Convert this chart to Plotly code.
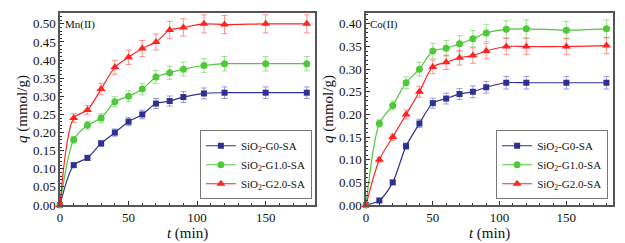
import plotly.graph_objects as go

t = [0, 10, 20, 30, 40, 50, 60, 70, 80, 90, 105, 120, 150, 180]

mn_g0 = [0, 0.11, 0.13, 0.17, 0.20, 0.23, 0.25, 0.28, 0.287, 0.298, 0.308, 0.31, 0.31, 0.31]
mn_g1 = [0, 0.18, 0.22, 0.24, 0.285, 0.30, 0.32, 0.353, 0.365, 0.375, 0.385, 0.39, 0.39, 0.39]
mn_g2 = [0, 0.24, 0.262, 0.32, 0.38, 0.408, 0.432, 0.45, 0.483, 0.49, 0.50, 0.498, 0.50, 0.50]
mn_g0_err = [0, 0.006, 0.007, 0.008, 0.01, 0.011, 0.012, 0.014, 0.014, 0.015, 0.015, 0.016, 0.016, 0.016]
mn_g1_err = [0, 0.009, 0.011, 0.012, 0.014, 0.015, 0.016, 0.018, 0.018, 0.019, 0.019, 0.02, 0.02, 0.02]
mn_g2_err = [0, 0.012, 0.013, 0.016, 0.019, 0.02, 0.022, 0.022, 0.024, 0.024, 0.025, 0.025, 0.025, 0.025]

co_g0 = [0, 0.01, 0.05, 0.13, 0.18, 0.225, 0.235, 0.245, 0.25, 0.26, 0.27, 0.27, 0.27, 0.27]
co_g1 = [0, 0.18, 0.22, 0.27, 0.30, 0.34, 0.346, 0.356, 0.367, 0.38, 0.388, 0.389, 0.386, 0.389]
co_g2 = [0, 0.10, 0.15, 0.20, 0.25, 0.305, 0.315, 0.325, 0.33, 0.34, 0.35, 0.35, 0.35, 0.352]
co_g0_err = [0, 0.004, 0.004, 0.007, 0.009, 0.011, 0.012, 0.012, 0.013, 0.013, 0.014, 0.014, 0.014, 0.014]
co_g1_err = [0, 0.008, 0.01, 0.013, 0.015, 0.017, 0.017, 0.018, 0.018, 0.019, 0.019, 0.02, 0.019, 0.02]
co_g2_err = [0, 0.005, 0.007, 0.01, 0.012, 0.015, 0.016, 0.016, 0.017, 0.017, 0.018, 0.018, 0.018, 0.018]

names = ["SiO<sub>2</sub>-G0-SA", "SiO<sub>2</sub>-G1.0-SA", "SiO<sub>2</sub>-G2.0-SA"]
colors = ["#2E3192", "#4FC83A", "#FF2424"]
err_colors = ["rgba(80,80,200,0.55)", "rgba(90,200,70,0.55)", "rgba(255,60,60,0.55)"]
symbols = ["square", "circle", "triangle-up"]
sizes = [6, 7, 8]

FONT = "Liberation Serif, Times New Roman, serif"
fig = go.Figure()

panels = [
    ([mn_g0, mn_g1, mn_g2], [mn_g0_err, mn_g1_err, mn_g2_err], "x", "y", "legend"),
    ([co_g0, co_g1, co_g2], [co_g0_err, co_g1_err, co_g2_err], "x2", "y2", "legend2"),
]
for series, errs, xa, ya, lg in panels:
    for i in range(3):
        fig.add_trace(go.Scatter(
            x=t, y=series[i], name=names[i], mode="lines+markers",
            xaxis=xa, yaxis=ya, legend=lg,
            line=dict(color=colors[i], width=1.2, shape="spline", smoothing=0.8),
            marker=dict(symbol=symbols[i], size=sizes[i], color=colors[i]),
            error_y=dict(type="data", array=errs[i], visible=True,
                         color=err_colors[i], thickness=1, width=3),
            cliponaxis=False,
        ))

axis_common = dict(
    showline=True, linecolor="#555555", linewidth=1.5, mirror=True,
    ticks="inside", ticklen=4, tickcolor="#333333", showgrid=False, zeroline=False,
    automargin=False,
    tickfont=dict(family=FONT, size=13, color="#111111"),
    minor=dict(ticks="inside", ticklen=2, tickcolor="#333333"),
)

fig.update_layout(
    width=625, height=243,
    margin=dict(l=0, r=0, t=13, b=38),
    paper_bgcolor="white", plot_bgcolor="white",
    font=dict(family=FONT, color="#111111"),
    xaxis=dict(domain=[0.096, 0.504], range=[0, 186], dtick=50,
               title=dict(text="<i>t</i> (min)", font=dict(size=15), standoff=2),
               anchor="y", **axis_common),
    yaxis=dict(domain=[0, 1], range=[0, 0.53], dtick=0.05, tickformat=".2f",
               title=dict(text="<i>q</i> (mmol/g)", font=dict(size=15), standoff=2),
               anchor="x", **axis_common),
    xaxis2=dict(domain=[0.5856, 0.981], range=[0, 185], dtick=50,
                title=dict(text="<i>t</i> (min)", font=dict(size=15), standoff=2),
                anchor="y2", **axis_common),
    yaxis2=dict(domain=[0, 1], range=[0, 0.424], dtick=0.05, tickformat=".2f",
                title=dict(text="<i>q</i> (mmol/g)", font=dict(size=15), standoff=2),
                anchor="x2", **axis_common),
    legend=dict(x=0.499, y=0.03, xanchor="right", yanchor="bottom",
                bordercolor="#777777", borderwidth=1, bgcolor="white",
                font=dict(family=FONT, size=11), itemwidth=30, tracegroupgap=0),
    legend2=dict(x=0.973, y=0.03, xanchor="right", yanchor="bottom",
                 bordercolor="#777777", borderwidth=1, bgcolor="white",
                 font=dict(family=FONT, size=11), itemwidth=30, tracegroupgap=0),
    annotations=[
        dict(text="Mn(II)", x=0.1, y=0.985, xref="paper", yref="paper",
             xanchor="left", yanchor="top", showarrow=False,
             font=dict(family=FONT, size=11)),
        dict(text="Co(II)", x=0.589, y=0.985, xref="paper", yref="paper",
             xanchor="left", yanchor="top", showarrow=False,
             font=dict(family=FONT, size=11)),
    ],
)

fig.write_html("out.html", config={"displayModeBar": False},
               post_script="document.body.style.margin='0';document.body.style.overflow='hidden';")
